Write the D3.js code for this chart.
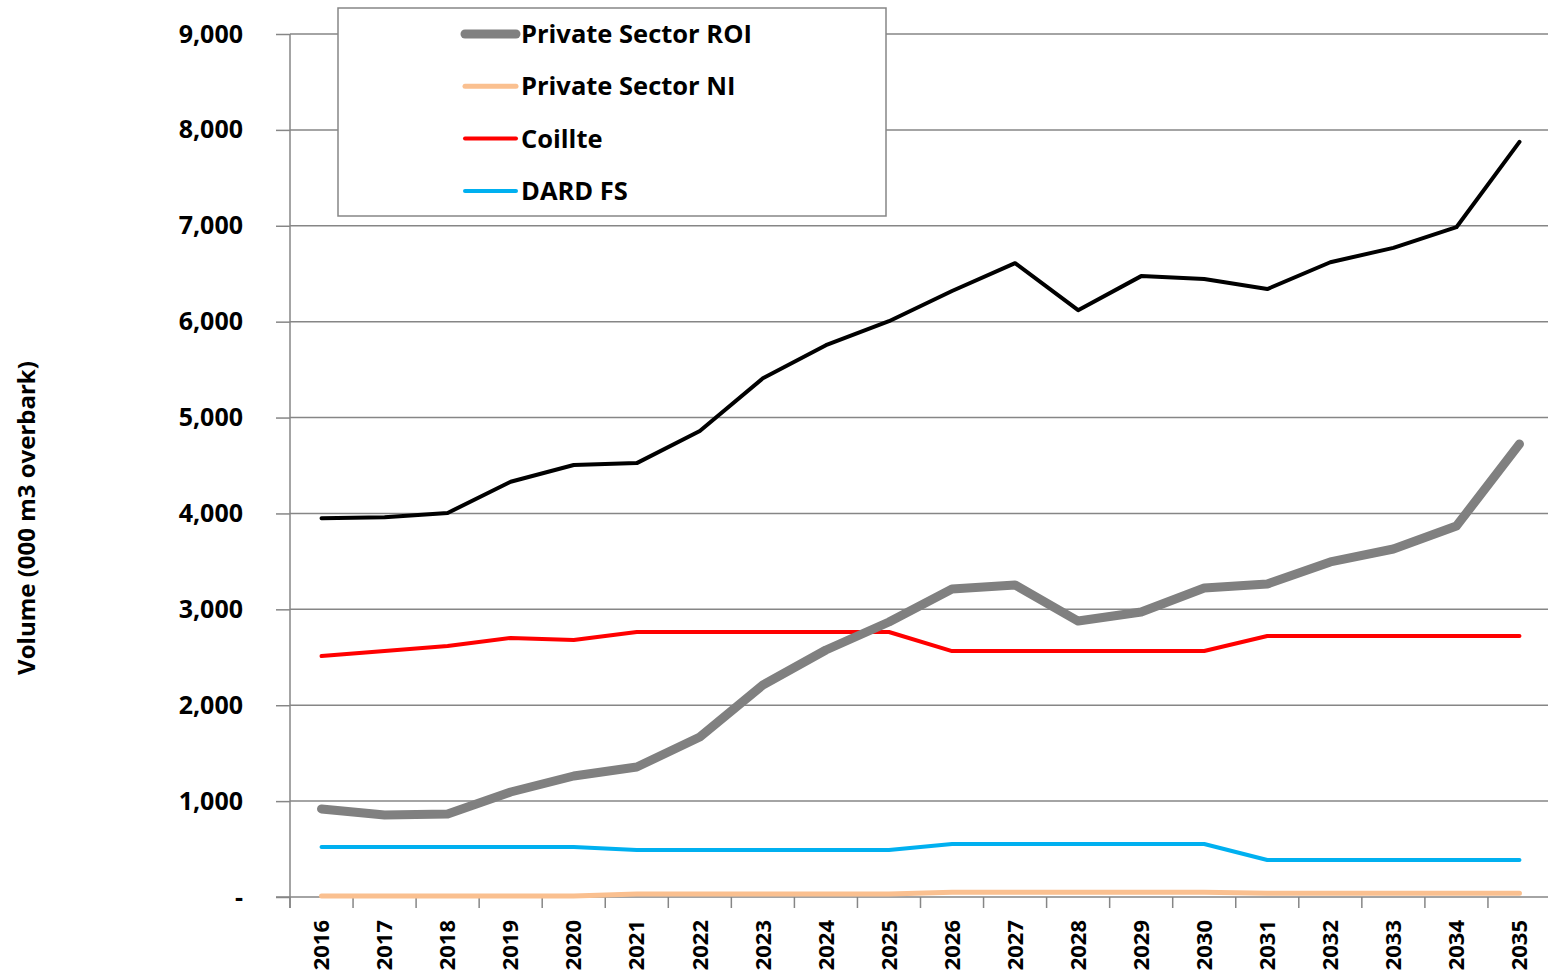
<!DOCTYPE html>
<html>
<head>
<meta charset="utf-8">
<script src="https://cdn.jsdelivr.net/npm/d3@7"></script>
<style>
  html, body { margin: 0; padding: 0; background: #fff; }
  svg { display: block; font-family: "Open Sans", Lato, sans-serif; font-weight: bold; }
</style>
</head>
<body>
<svg id="svg" width="1548" height="974"></svg>
<script>
// chart data
var years = ['2016','2017','2018','2019','2020','2021','2022','2023','2024','2025',
             '2026','2027','2028','2029','2030','2031','2032','2033','2034','2035'];
var privateROI = [918, 855, 865, 1095, 1262, 1356, 1669, 2211, 2576, 2868,
                  3212, 3254, 2878, 2972, 3222, 3264, 3494, 3629, 3869, 4724];
var privateNI = [10, 10, 10, 10, 10, 30, 30, 30, 30, 30,
                 50, 50, 50, 50, 50, 40, 40, 40, 40, 40];
var coillte = [2513, 2565, 2618, 2701, 2680, 2764, 2764, 2764, 2764, 2764,
               2565, 2565, 2565, 2565, 2565, 2722, 2722, 2722, 2722, 2722];
var dardFS = [521, 521, 521, 521, 521, 490, 490, 490, 490, 490,
              553, 553, 553, 553, 553, 386, 386, 386, 386, 386];
var total = [3950, 3960, 4005, 4330, 4505, 4525, 4860, 5410, 5755, 6005,
             6320, 6610, 6120, 6475, 6445, 6340, 6620, 6770, 6985, 7875];
var yTicks = [0, 1000, 2000, 3000, 4000, 5000, 6000, 7000, 8000, 9000];
var legendNames = ['Private Sector ROI', 'Private Sector NI', 'Coillte', 'DARD FS'];

var svg = d3.select('#svg');
var margin = { left: 290, right: 1551, top: 34, bottom: 897 };
var axisColor = '#868686';

var xScale = d3.scaleBand().domain(years).range([margin.left, margin.right]);
var yScale = d3.scaleLinear().domain([0, 9000]).range([margin.bottom, margin.top]);

// grid lines
svg.append('g').selectAll('line')
  .data(yTicks.filter(d => d > 0))
  .join('line')
  .attr('x1', margin.left).attr('x2', margin.right)
  .attr('y1', d => yScale(d)).attr('y2', d => yScale(d))
  .style('stroke', axisColor).style('stroke-width', 1.5);

// y axis
var yAxis = d3.axisLeft(yScale)
  .tickValues(yTicks)
  .tickSize(14)
  .tickPadding(33)
  .tickFormat(d => d === 0 ? '-' : d3.format(',')(d));
var yg = svg.append('g').attr('transform', `translate(${margin.left},0)`).call(yAxis);
yg.select('.domain').remove();
yg.selectAll('.tick line').style('stroke', axisColor).style('stroke-width', 1.5);
yg.selectAll('.tick text')
  .style('font-size', '25px')
  .style('font-family', '"Open Sans", Lato, sans-serif')
  .style('font-weight', 'bold')
  .attr('fill', '#000');
svg.append('line')
  .attr('x1', margin.left).attr('x2', margin.left)
  .attr('y1', margin.top).attr('y2', margin.bottom + 11)
  .style('stroke', axisColor).style('stroke-width', 1.5);

// x axis
svg.append('line')
  .attr('x1', margin.left - 14).attr('x2', margin.right)
  .attr('y1', margin.bottom).attr('y2', margin.bottom)
  .style('stroke', axisColor).style('stroke-width', 1.5);
var bounds = years.map(d => xScale(d)).concat([margin.right]);
svg.append('g').selectAll('line')
  .data(bounds)
  .join('line')
  .attr('x1', d => d).attr('x2', d => d)
  .attr('y1', margin.bottom).attr('y2', margin.bottom + 11)
  .style('stroke', axisColor).style('stroke-width', 1.5);
svg.append('g').selectAll('text')
  .data(years)
  .join('text')
  .attr('transform', d => `translate(${xScale(d) + xScale.bandwidth() / 2},920) rotate(-90)`)
  .attr('text-anchor', 'end')
  .attr('dy', '0.35em')
  .style('font-size', '22px')
  .text(d => d);

// y axis title
svg.append('text')
  .attr('transform', 'translate(27,518) rotate(-90)')
  .attr('text-anchor', 'middle')
  .attr('dy', '0.35em')
  .style('font-size', '24px')
  .text('Volume (000 m3 overbark)');

// lines
var cx = d => xScale(d) + xScale.bandwidth() / 2;
var series = [
  { values: total, color: '#000000', width: 4 },
  { values: privateNI, color: '#FAC090', width: 5 },
  { values: dardFS, color: '#00B0F0', width: 4 },
  { values: coillte, color: '#FF0000', width: 4 },
  { values: privateROI, color: '#808080', width: 9 }
];
var line = d3.line().x((d, i) => cx(years[i])).y(d => yScale(d));
series.forEach(s => {
  svg.append('path')
    .attr('d', line(s.values))
    .attr('fill', 'none')
    .style('stroke', s.color)
    .style('stroke-width', s.width)
    .style('stroke-linejoin', 'round')
    .style('stroke-linecap', 'round');
});

// legend
var legend = svg.append('g');
legend.append('rect')
  .attr('x', 338).attr('y', 8).attr('width', 548).attr('height', 208)
  .attr('fill', '#fff')
  .style('stroke', axisColor).style('stroke-width', 1.5);
var legendColors = ['#808080', '#FAC090', '#FF0000', '#00B0F0'];
var legendWidths = [9, 5, 4, 4];
legendNames.forEach((name, i) => {
  var y = 34 + i * 52.3;
  legend.append('line')
    .attr('x1', 465).attr('x2', 516).attr('y1', y).attr('y2', y)
    .style('stroke', legendColors[i]).style('stroke-width', legendWidths[i])
    .style('stroke-linecap', 'round');
  legend.append('text')
    .attr('x', 521).attr('y', y).attr('dy', '0.35em')
    .style('font-size', '25.5px')
    .text(name);
});
</script>
</body>
</html>
